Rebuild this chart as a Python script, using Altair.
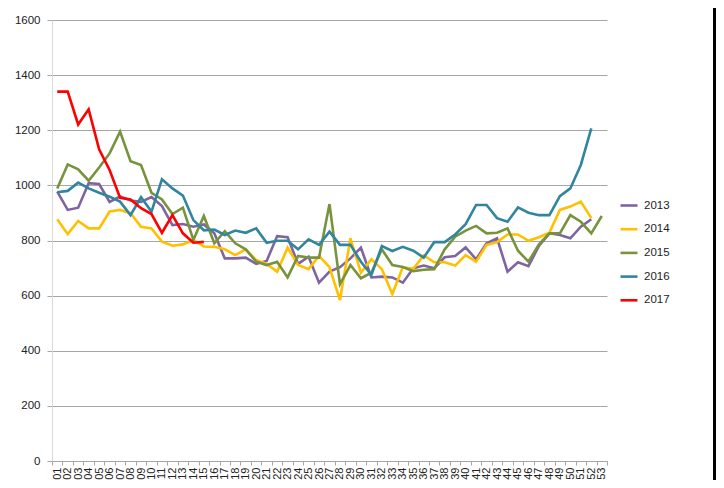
import altair as alt
import pandas as pd

weeks = [f"W:{i:02d}" for i in range(1, 54)]
years = ["2013", "2014", "2015", "2016", "2017"]
colors = ["#8064A2", "#FFC000", "#77933C", "#31859C", "#FF0000"]

v2013 = [977, 911, 919, 1008, 1005, 940, 960, 945, 940, 958,
         925, 856, 860, 850, 858, 826, 735, 735, 738, 715,
         726, 816, 812, 715, 741, 647, 687, 703, 735, 774,
         666, 669, 666, 647, 699, 709, 699, 739, 744, 775,
         732, 790, 808, 687, 721, 707, 780, 826, 820, 808,
         850, 877, None]
v2014 = [877, 823, 871, 844, 844, 905, 911, 899, 850, 844,
         796, 781, 786, 802, 778, 777, 768, 747, 768, 729,
         715, 687, 774, 711, 696, 744, 703, 584, 808, 683,
         732, 696, 606, 703, 697, 746, 721, 721, 709, 747,
         723, 784, 794, 822, 822, 799, 812, 828, 911, 923,
         941, 881, None]
v2015 = [989, 1076, 1058, 1017, 1065, 1116, 1195, 1088, 1074, 973,
         949, 896, 919, 802, 889, 790, 834, 790, 768, 723,
         711, 723, 666, 744, 738, 738, 932, 642, 711, 663,
         683, 768, 711, 704, 689, 694, 696, 768, 814, 836,
         853, 826, 828, 844, 763, 723, 786, 826, 826, 892,
         868, 826, 889]
v2016 = [975, 980, 1010, 989, 973, 959, 941, 892, 957, 905,
         1022, 989, 963, 874, 837, 840, 820, 836, 828, 844,
         792, 799, 799, 768, 804, 784, 832, 784, 784, 723,
         675, 780, 762, 777, 763, 738, 794, 794, 822, 859,
         929, 929, 881, 868, 920, 901, 892, 892, 961, 989,
         1074, 1207, None]
v2017 = [1340, 1340, 1221, 1276, 1131, 1056, 955, 949, 917, 896,
         828, 892, 826, 792, 795]

series = {"2013": v2013, "2014": v2014, "2015": v2015, "2016": v2016, "2017": v2017}
y_ticks = [0, 200, 400, 600, 800, 1000, 1200, 1400, 1600]

rows = []
for yr, vals in series.items():
    for w, v in zip(weeks, vals):
        if v is not None:
            rows.append({"week": w, "year": yr, "value": v})
df = pd.DataFrame(rows)

FONT = "Liberation Sans"

lines = alt.Chart(df).mark_line().encode(
    x=alt.X("week:O",
            scale=alt.Scale(type="band", domain=weeks, paddingInner=0, paddingOuter=0),
            axis=alt.Axis(title=None, labelAngle=-90, tickBand="extent", tickSize=4,
                          tickColor="#a6a6a6", domainColor="#a6a6a6", labelFontSize=11,
                          labelPadding=2, labelFont=FONT, labelColor="#222222", grid=False)),
    y=alt.Y("value:Q",
            scale=alt.Scale(domain=[0, 1600], nice=False),
            axis=alt.Axis(title=None, values=y_ticks, format="d", tickSize=5, tickColor="#a6a6a6",
                          domainColor="#d9d9d9", gridColor="#a6a6a6", labelFontSize=11.5,
                          labelPadding=7, labelFont=FONT, labelColor="#222222")),
    color=alt.Color("year:N", scale=alt.Scale(domain=years, range=colors),
                    legend=alt.Legend(title=None, orient="none", legendX=567, legendY=175.5,
                                      symbolType="stroke", symbolSize=289, symbolStrokeWidth=3,
                                      rowPadding=7.7, labelOffset=5, labelFontSize=11.5,
                                      labelFont=FONT, labelColor="#222222", padding=0)),
    strokeWidth=alt.StrokeWidth("year:N", scale=alt.Scale(domain=years, range=[2.6, 2.6, 2.6, 2.6, 3.3]),
                                legend=None),
    order=alt.Order("year:N"),
)

border = alt.Chart(alt.Data(values=[{"a": 1}])).mark_rule(color="#000000", strokeWidth=3).encode(
    x=alt.value(662.5), y=alt.value(-12), y2=alt.value(462)
)

chart = alt.layer(lines, border).properties(
    width=555, height=441,
    autosize=alt.AutoSizeParams(type="none"),
    padding={"left": 44, "top": 12, "right": 109, "bottom": 19},
    background="#ffffff",
).configure_view(stroke=None)

chart.save("out.html", embed_options={"renderer": "svg", "actions": False})
